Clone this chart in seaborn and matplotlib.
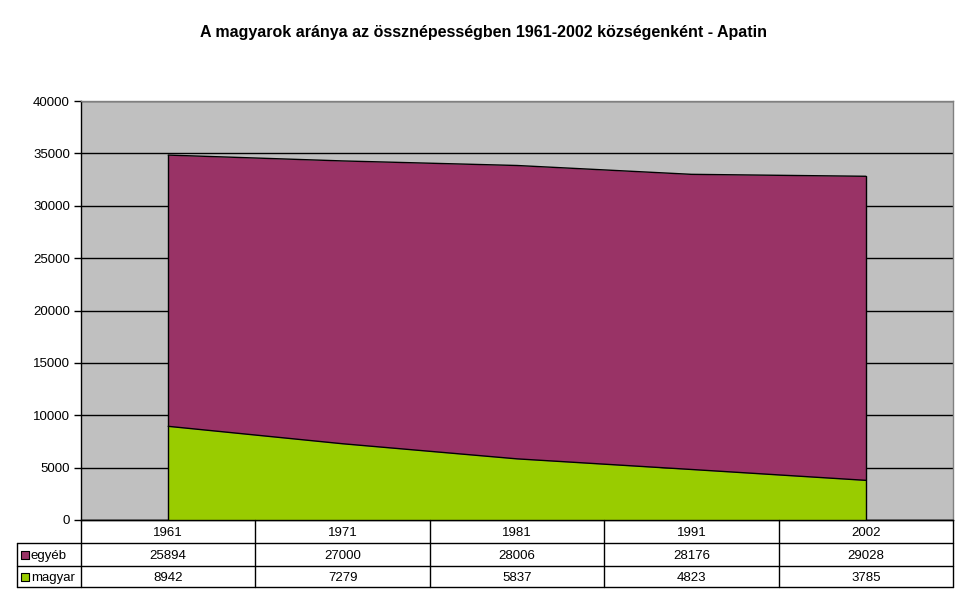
import numpy as np
import pandas as pd
import matplotlib
matplotlib.use("Agg")
import matplotlib.pyplot as plt
import seaborn as sns

years = ["1961", "1971", "1981", "1991", "2002"]
egyeb = [25894, 27000, 28006, 28176, 29028]
magyar = [8942, 7279, 5837, 4823, 3785]
series_names = ["egyéb", "magyar"]
title = "A magyarok aránya az össznépességben 1961-2002 községenként - Apatin"
yticks = [0, 5000, 10000, 15000, 20000, 25000, 30000, 35000, 40000]

PURPLE = "#993366"
GREEN = "#99CC00"
GRAY = "#C0C0C0"

sns.set_style("white")
plt.rcParams["font.family"] = ["Liberation Sans", "DejaVu Sans"]
plt.rcParams["text.color"] = "black"
plt.rcParams["ytick.labelcolor"] = "black"
plt.rcParams["ytick.color"] = "black"

W, H = 968, 604
fig = plt.figure(figsize=(W / 100, H / 100), dpi=100)

def fx(px):
    return px / W

def fy(py):
    return 1 - py / H

L, R, T, B = 81, 953, 101, 520
ax = fig.add_axes([fx(L), fy(B), fx(R) - fx(L), fy(T) - fy(B)])
ax.set_facecolor(GRAY)

df = pd.DataFrame({"x": np.arange(len(years)), "magyar": magyar, "egyeb": egyeb})
df["total"] = df["magyar"] + df["egyeb"]
ax.fill_between(df["x"], 0, df["magyar"], color=GREEN, zorder=3, lw=0)
ax.fill_between(df["x"], df["magyar"], df["total"], color=PURPLE, zorder=3, lw=0)
sns.lineplot(data=df, x="x", y="magyar", color="black", lw=1, ax=ax, zorder=4)
sns.lineplot(data=df, x="x", y="total", color="black", lw=1, ax=ax, zorder=4)
for i in [0, len(years) - 1]:
    ax.plot([df["x"][i], df["x"][i]], [0, df["total"][i]], color="black", lw=1, zorder=4)

ax.set_xlim(-0.5, len(years) - 0.5)
ax.set_ylim(0, 40000)
ax.set_yticks(yticks)
ax.set_yticklabels([str(v) for v in yticks], fontsize=9.5, color="black")
ax.yaxis.grid(True, color="black", lw=1, zorder=1)
ax.set_axisbelow(True)
ax.set_xticks([])
ax.set_xlabel("")
ax.set_ylabel("")
ax.tick_params(axis="y", direction="out", length=5, width=1, color="black", pad=3, left=True)
for s in ["top", "right"]:
    ax.spines[s].set_color("#808080")
    ax.spines[s].set_linewidth(1)
ax.spines["left"].set_color("black")
ax.spines["bottom"].set_color("black")
ax.spines["left"].set_linewidth(1)
ax.spines["bottom"].set_linewidth(1)

# data table
TL, TB = 17, 587
col_w = (R - L) / len(years)
tax = fig.add_axes([fx(TL), fy(TB), fx(R) - fx(TL), fy(B) - fy(TB)])
tax.set_xlim(-0.5 - (L - TL) / col_w, len(years) - 0.5)
tax.set_ylim(0, 3)
tax.invert_yaxis()
tax.axis("off")
row_h = [0, 23 / (TB - B) * 3, 46 / (TB - B) * 3, 3]
lx = -0.5 - (L - TL) / col_w
kw = dict(color="black", lw=1, clip_on=False)
tax.plot([-0.5, len(years) - 0.5], [row_h[0], row_h[0]], **kw)
for r in row_h[1:]:
    tax.plot([lx, len(years) - 0.5], [r, r], **kw)
for i in range(len(years) + 1):
    tax.plot([i - 0.5, i - 0.5], [0, 3], **kw)
tax.plot([lx, lx], [row_h[1], 3], **kw)

tk = dict(ha="center", va="center_baseline", fontsize=9.5, color="black")
for i, yv in enumerate(years):
    tax.text(i, (row_h[0] + row_h[1]) / 2, yv, **tk)
for i, v in enumerate(egyeb):
    tax.text(i, (row_h[1] + row_h[2]) / 2, str(v), **tk)
for i, v in enumerate(magyar):
    tax.text(i, (row_h[2] + row_h[3]) / 2, str(v), **tk)

for name, col, r0, r1 in [(series_names[0], PURPLE, row_h[1], row_h[2]),
                          (series_names[1], GREEN, row_h[2], row_h[3])]:
    ym = (r0 + r1) / 2
    tax.scatter([lx + 0.045], [ym], marker="s", s=38, color=col, edgecolor="black",
                linewidth=0.8, clip_on=False, zorder=5)
    tax.text(lx + 0.08, ym, name, ha="left", va="center_baseline", fontsize=9.5, color="black")

fig.text(0.5, fy(32), title, ha="center", va="center", fontsize=11.5, fontweight="bold",
         color="black")

fig.savefig("out.png", dpi=100, facecolor="white")
